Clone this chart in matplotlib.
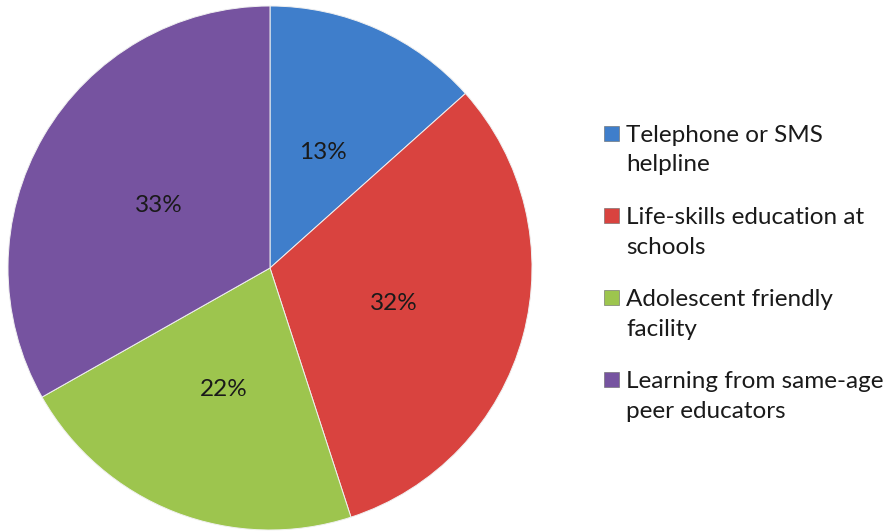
import matplotlib.pyplot as plt
from matplotlib.patches import Rectangle

categories = [["Telephone or SMS", "helpline"],
              ["Life-skills education at", "schools"],
              ["Adolescent friendly", "facility"],
              ["Learning from same-age", "peer educators"]]
shares = [13.4, 31.6, 21.8, 33.2]
colors = ["#3F7ECB", "#D9433F", "#9DC54E", "#7653A0"]

plt.rcParams['font.family'] = ['Lato', 'DejaVu Sans']

fig = plt.figure(figsize=(8.88, 5.31), dpi=100)
W, H = 888, 531
cx, cy, r = 270, 268, 262
ax = fig.add_axes([(cx - r) / W, (H - cy - r) / H, 2 * r / W, 2 * r / H])

wedges, texts, autotexts = ax.pie(
    shares, colors=colors, startangle=90, counterclock=False,
    autopct='%.0f%%', pctdistance=0.49,
    wedgeprops=dict(edgecolor='#f0f0f0', linewidth=0.7),
    textprops=dict(fontsize=17.5, color='#1a1a1a', va='center_baseline'))
ax.set_xlim(-1, 1)
ax.set_ylim(-1, 1)
ax.set_aspect('equal')
ax.axis('off')

# legend drawn by hand so the marker sits on the first text line
base0, step, lead = 142, 82, 29.5
for i, (lines, c) in enumerate(zip(categories, colors)):
    b = base0 + i * step
    fig.patches.append(Rectangle((604 / W, 1 - (b - 1) / H), 15 / W, 15 / H,
                                 transform=fig.transFigure, facecolor=c,
                                 edgecolor='#666666', linewidth=0.4))
    for j, line in enumerate(lines):
        fig.text(626 / W, 1 - (b + j * lead) / H, line, fontsize=17.5,
                 color='#1a1a1a', va='baseline', ha='left')

fig.savefig("out.png", dpi=100)
